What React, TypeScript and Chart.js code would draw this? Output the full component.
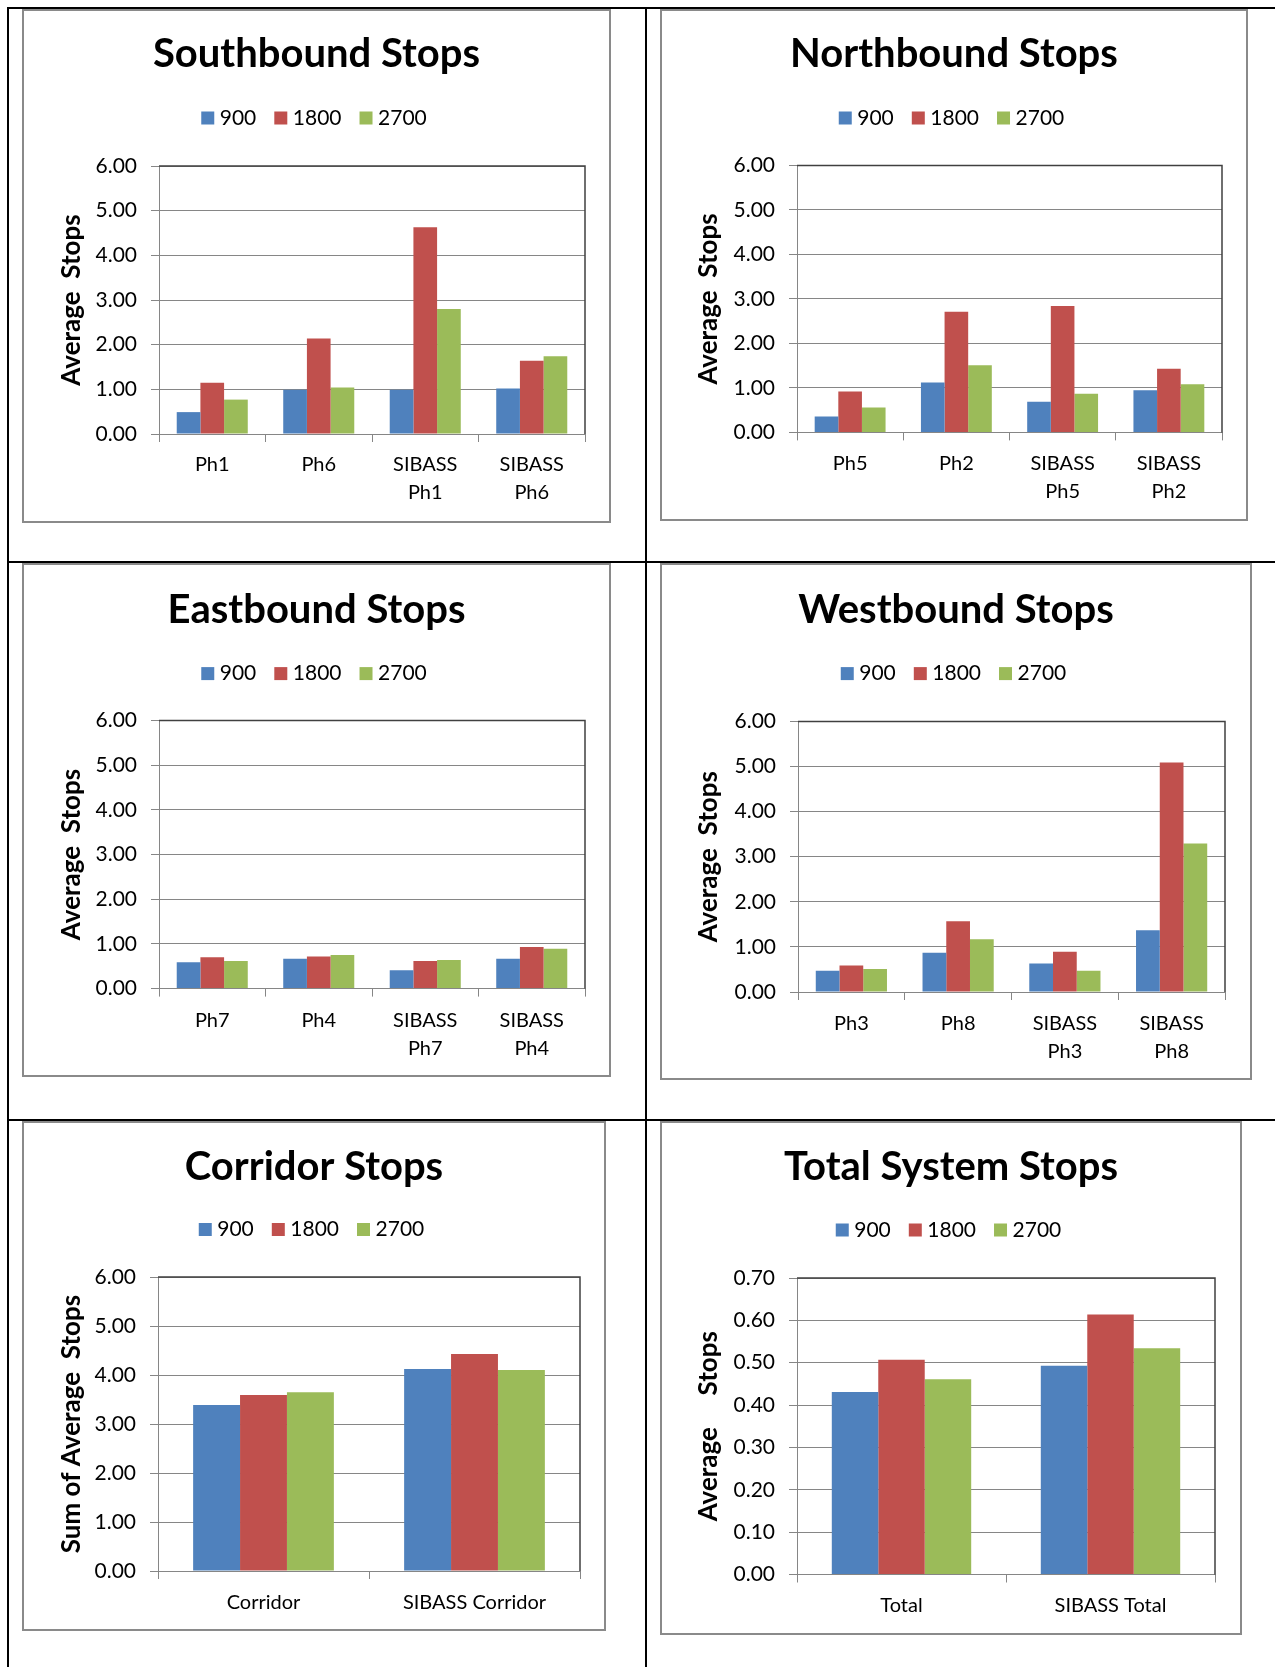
import React, { useEffect, useRef } from "react";
import { Chart, registerables } from "chart.js";

Chart.register(...registerables);

// ---------------- data ----------------
const SERIES = ["900", "1800", "2700"];
const COLORS = ["#4F81BD", "#C0504D", "#9BBB59"];

const sbCategories = ["Ph1", "Ph6", ["SIBASS", "Ph1"], ["SIBASS", "Ph6"]];
const sb900 = [0.49, 0.99, 0.99, 1.02];
const sb1800 = [1.15, 2.14, 4.63, 1.64];
const sb2700 = [0.77, 1.04, 2.8, 1.74];

const nbCategories = ["Ph5", "Ph2", ["SIBASS", "Ph5"], ["SIBASS", "Ph2"]];
const nb900 = [0.36, 1.12, 0.69, 0.95];
const nb1800 = [0.92, 2.71, 2.84, 1.43];
const nb2700 = [0.56, 1.51, 0.87, 1.08];

const ebCategories = ["Ph7", "Ph4", ["SIBASS", "Ph7"], ["SIBASS", "Ph4"]];
const eb900 = [0.59, 0.67, 0.41, 0.67];
const eb1800 = [0.7, 0.72, 0.62, 0.93];
const eb2700 = [0.62, 0.75, 0.64, 0.89];

const wbCategories = ["Ph3", "Ph8", ["SIBASS", "Ph3"], ["SIBASS", "Ph8"]];
const wb900 = [0.47, 0.87, 0.63, 1.37];
const wb1800 = [0.59, 1.57, 0.89, 5.09];
const wb2700 = [0.51, 1.17, 0.47, 3.29];

const corCategories = ["Corridor", "SIBASS Corridor"];
const cor900 = [3.39, 4.12];
const cor1800 = [3.59, 4.43];
const cor2700 = [3.65, 4.1];

const totCategories = ["Total", "SIBASS Total"];
const tot900 = [0.431, 0.493];
const tot1800 = [0.507, 0.614];
const tot2700 = [0.461, 0.534];

const STOPS_AXIS = { max: 6, step: 1 };
const TOTAL_AXIS = { max: 0.7, step: 0.1 };

// ---------------- styling ----------------
const FONT = "Lato, 'Open Sans', 'DejaVu Sans', sans-serif";
const GRID = "#868686";
const FRAME = "#404040";
const TITLE_SIZE = 40;
const TITLE_LH = 1.2;
const LEGEND_SIZE = 21;
const LEGEND_PAD = 23;
const TICK_SIZE = 21;
const XLABEL_SIZE = 20;
const YTITLE_SIZE = 26;
const YTITLE_LH = 1.2;

const framePlugin = {
  id: "plotFrame",
  afterDraw(chart: any) {
    const { ctx, chartArea } = chart;
    const { left, top, right, bottom } = chartArea;
    ctx.save();
    ctx.strokeStyle = FRAME;
    ctx.lineWidth = 1.5;
    ctx.beginPath();
    ctx.moveTo(left, top);
    ctx.lineTo(right, top);
    ctx.lineTo(right, bottom);
    ctx.stroke();
    ctx.restore();
  },
};

type Box = { x: number; y: number; w: number; h: number };
type Plot = { l: number; t: number; r: number; b: number };

type PanelProps = {
  title: string;
  yTitle: string;
  categories: any[];
  values: number[][];
  axis: { max: number; step: number };
  box: Box;
  plot: Plot;
  titleY: number;
  legendY: number;
  labelPad: number;
  yTitleX: number;
};

function BarPanel(p: PanelProps) {
  const ref = useRef<HTMLCanvasElement | null>(null);
  const cw = p.box.w - 4;
  const ch = p.box.h - 4;

  useEffect(() => {
    if (!ref.current) return;
    const lt = TITLE_SIZE * TITLE_LH;
    const titlePadTop = p.titleY - lt / 2;
    const itemH = LEGEND_SIZE;
    const titleBottom = p.legendY - LEGEND_PAD - itemH / 2;
    const titlePadBottom = titleBottom - titlePadTop - lt;
    const legendBottom = titleBottom + itemH + LEGEND_PAD + 10;
    const spacer = Math.max(0, p.plot.t - legendBottom - 1);

    const chart = new Chart(ref.current, {
      type: "bar",
      data: {
        labels: p.categories,
        datasets: SERIES.map((s, i) => ({
          label: s,
          data: p.values[i],
          backgroundColor: COLORS[i],
          borderWidth: 0,
          categoryPercentage: 0.667,
          barPercentage: 1.0,
        })),
      },
      options: {
        responsive: false,
        animation: false,
        devicePixelRatio: 1,
        events: [],
        layout: { padding: 0 },
        plugins: {
          tooltip: { enabled: false },
          title: {
            display: true,
            text: p.title,
            color: "#000",
            font: { family: FONT, size: TITLE_SIZE, weight: "bold", lineHeight: TITLE_LH },
            padding: { top: titlePadTop, bottom: titlePadBottom },
          },
          subtitle: {
            display: true,
            text: "",
            weight: 500,
            font: { family: FONT, size: 1, lineHeight: 1 },
            padding: { top: spacer, bottom: 0 },
          },
          legend: {
            display: true,
            position: "top",
            labels: {
              color: "#000",
              font: { family: FONT, size: LEGEND_SIZE },
              usePointStyle: true,
              pointStyle: "rect",
              boxWidth: 3,
              boxHeight: 13,
              padding: LEGEND_PAD,
            },
          },
        },
        scales: {
          x: {
            offset: true,
            grid: {
              offset: true,
              drawOnChartArea: false,
              drawTicks: true,
              tickLength: 8,
              color: GRID,
            },
            border: { display: true, color: GRID },
            ticks: {
              color: "#000",
              font: { family: FONT, size: XLABEL_SIZE, lineHeight: 1.4 },
              padding: p.labelPad,
              maxRotation: 0,
              autoSkip: false,
            },
            afterFit: (scale: any) => {
              scale.height = ch - p.plot.b;
            },
          },
          y: {
            min: 0,
            max: p.axis.max,
            ticks: {
              stepSize: p.axis.step,
              color: "#000",
              font: { family: FONT, size: TICK_SIZE },
              padding: 14,
              callback: (v: any) => Number(v).toFixed(2),
            },
            grid: { color: GRID, tickLength: 8, drawTicks: true },
            border: { display: true, color: GRID },
            title: {
              display: true,
              text: p.yTitle,
              color: "#000",
              font: { family: FONT, size: YTITLE_SIZE, weight: "bold", lineHeight: YTITLE_LH },
              padding: { top: p.yTitleX - (YTITLE_SIZE * YTITLE_LH) / 2, bottom: 0 },
            },
            afterFit: (scale: any) => {
              scale.width = p.plot.l;
            },
          },
          yRightSpace: {
            type: "linear",
            position: "right",
            display: true,
            grid: { display: false, drawTicks: false },
            border: { display: false },
            ticks: { display: false },
            afterFit: (scale: any) => {
              scale.width = cw - p.plot.r;
            },
          },
        },
      } as any,
      plugins: [framePlugin],
    });
    return () => chart.destroy();
  }, []);

  return (
    <div
      style={{
        position: "absolute",
        left: p.box.x,
        top: p.box.y,
        width: cw,
        height: ch,
        border: "2px solid #8a8a8a",
        background: "#fff",
      }}
    >
      <canvas ref={ref} width={cw} height={ch} style={{ display: "block", width: cw, height: ch }} />
    </div>
  );
}

function Line(props: { x: number; y: number; w: number; h: number }) {
  return (
    <div
      style={{
        position: "absolute",
        left: props.x,
        top: props.y,
        width: props.w,
        height: props.h,
        background: "#000",
      }}
    />
  );
}

export default function App() {
  useEffect(() => {
    document.body.style.overflow = "hidden";
  }, []);
  return (
    <div>
      <Line x={7} y={7} w={1268} h={2} />
      <Line x={7} y={561} w={1268} h={2} />
      <Line x={7} y={1119} w={1268} h={2} />
      <Line x={7} y={7} w={2} h={1660} />
      <Line x={645} y={7} w={2} h={1660} />

      <BarPanel
        title="Southbound Stops"
        yTitle="Average  Stops"
        categories={sbCategories}
        values={[sb900, sb1800, sb2700]}
        axis={STOPS_AXIS}
        box={{ x: 22, y: 9, w: 589, h: 514 }}
        plot={{ l: 135, t: 155, r: 561, b: 423 }}
        titleY={43.5}
        legendY={107}
        labelPad={9}
        yTitleX={47.5}
      />
      <BarPanel
        title="Northbound Stops"
        yTitle="Average  Stops"
        categories={nbCategories}
        values={[nb900, nb1800, nb2700]}
        axis={STOPS_AXIS}
        box={{ x: 660, y: 9, w: 588, h: 512 }}
        plot={{ l: 135, t: 154.5, r: 560, b: 421.4 }}
        titleY={43.5}
        legendY={107}
        labelPad={9}
        yTitleX={47}
      />
      <BarPanel
        title="Eastbound Stops"
        yTitle="Average  Stops"
        categories={ebCategories}
        values={[eb900, eb1800, eb2700]}
        axis={STOPS_AXIS}
        box={{ x: 22, y: 563, w: 589, h: 514 }}
        plot={{ l: 135, t: 155.4, r: 561, b: 423.6 }}
        titleY={45}
        legendY={108.6}
        labelPad={10}
        yTitleX={47.5}
      />
      <BarPanel
        title="Westbound Stops"
        yTitle="Average  Stops"
        categories={wbCategories}
        values={[wb900, wb1800, wb2700]}
        axis={STOPS_AXIS}
        box={{ x: 660, y: 563, w: 592, h: 517 }}
        plot={{ l: 136, t: 156.4, r: 563, b: 427 }}
        titleY={45}
        legendY={108.6}
        labelPad={9.6}
        yTitleX={47}
      />
      <BarPanel
        title="Corridor Stops"
        yTitle="Sum of Average  Stops"
        categories={corCategories}
        values={[cor900, cor1800, cor2700]}
        axis={STOPS_AXIS}
        box={{ x: 22, y: 1121, w: 584, h: 510 }}
        plot={{ l: 134, t: 154, r: 556, b: 448 }}
        titleY={44}
        legendY={106.5}
        labelPad={9.7}
        yTitleX={47.5}
      />
      <BarPanel
        title="Total System Stops"
        yTitle="Average     Stops"
        categories={totCategories}
        values={[tot900, tot1800, tot2700]}
        axis={TOTAL_AXIS}
        box={{ x: 660, y: 1121, w: 582, h: 514 }}
        plot={{ l: 135, t: 155, r: 553, b: 451.5 }}
        titleY={44}
        legendY={107}
        labelPad={9}
        yTitleX={47}
      />
    </div>
  );
}
